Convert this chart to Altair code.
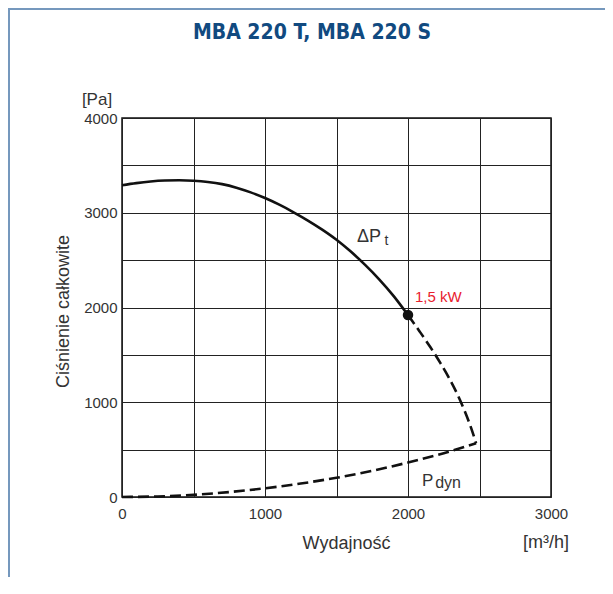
import altair as alt
import pandas as pd

# ---- data ----
flow_solid = [0, 100, 200, 300, 400, 500, 600, 700, 800, 900, 1000, 1100, 1200,
              1300, 1400, 1500, 1600, 1700, 1800, 1900, 2000]
pt_solid = [3290, 3313, 3330, 3340, 3343, 3338, 3325, 3302, 3265, 3215, 3155, 3085,
            3005, 2918, 2822, 2715, 2590, 2450, 2295, 2120, 1920]

flow_dash = [2000, 2080, 2157, 2228, 2291, 2348, 2397, 2440, 2476]
pt_dash = [1920, 1750, 1580, 1410, 1245, 1075, 905, 735, 567]

flow_dyn = [0, 250, 500, 750, 1000, 1250, 1500, 1750, 2000, 2250, 2476]
p_dyn = [0, 6, 23, 52, 92, 142, 203, 276, 364, 462, 567]

point_flow = [2000]
point_p = [1920]

x_ticks = [0, 500, 1000, 1500, 2000, 2500, 3000]
y_ticks = [0, 500, 1000, 1500, 2000, 2500, 3000, 3500, 4000]

FONT = "Liberation Sans, Arial, Helvetica, sans-serif"
TXT = "#333333"

df_solid = pd.DataFrame({"Q": flow_solid, "P": pt_solid})
df_dash = pd.concat([
    pd.DataFrame({"Q": flow_dash, "P": pt_dash, "curve": "dPt"}),
    pd.DataFrame({"Q": flow_dyn, "P": p_dyn, "curve": "Pdyn"}),
])
df_point = pd.DataFrame({"Q": point_flow, "P": point_p})

x_enc = alt.X(
    "Q:Q",
    scale=alt.Scale(domain=[0, 3000], nice=False, zero=False),
    axis=alt.Axis(
        values=x_ticks,
        labelExpr="datum.value % 1000 == 0 ? format(datum.value, 'd') : ''",
        grid=True, gridColor="#222222", gridWidth=1,
        ticks=False, domain=False,
        labelFontSize=15, labelColor=TXT, labelFont=FONT, labelPadding=9,
        labelFlush=False, labelOverlap=False,
        title="Wydajność", titleFont=FONT, titleFontSize=18,
        titleFontWeight="normal", titleColor=TXT,
        titleX=224, titleY=51, titleAlign="center", titleBaseline="alphabetic",
    ),
)
y_enc = alt.Y(
    "P:Q",
    scale=alt.Scale(domain=[0, 4000], nice=False),
    axis=alt.Axis(
        values=y_ticks,
        labelExpr="datum.value % 1000 == 0 ? format(datum.value, 'd') : ''",
        grid=True, gridColor="#222222", gridWidth=1,
        ticks=False, domain=False,
        labelFontSize=15, labelColor=TXT, labelFont=FONT, labelPadding=5,
        labelFlush=False, labelOverlap=False,
        title="Ciśnienie całkowite", titleFont=FONT, titleFontSize=18,
        titleFontWeight="normal", titleColor=TXT, titleAngle=270,
        titleX=-59, titleY=193, titleAlign="center", titleBaseline="middle",
    ),
)

solid = alt.Chart(df_solid).mark_line(
    color="#111111", strokeWidth=2.6, interpolate="monotone"
).encode(x=x_enc, y=y_enc)

dashed = alt.Chart(df_dash).mark_line(
    color="#111111", strokeWidth=2.6, interpolate="monotone", strokeDash=[11, 5]
).encode(x=x_enc, y=y_enc, detail="curve:N")

point = alt.Chart(df_point).mark_circle(
    color="#111111", size=110, opacity=1
).encode(x=x_enc, y=y_enc)

# in-plot annotations (data coordinates)
ann = pd.DataFrame({
    "Q": [1643, 1836, 2049, 2098, 2190],
    "P": [2691, 2662, 2058, 116, 100],
    "t": ["ΔP", "t", "1,5 kW", "P", "dyn"],
    "s": [18, 14, 15, 17, 16],
    "c": [TXT, TXT, "#e8202e", TXT, TXT],
})
ann_layers = []
for i in range(len(ann)):
    row = ann.iloc[[i]]
    ann_layers.append(
        alt.Chart(row).mark_text(
            align="left", baseline="alphabetic", font=FONT,
            fontSize=int(row["s"].iloc[0]), color=row["c"].iloc[0]
        ).encode(x=x_enc, y=y_enc, text="t:N")
    )

one = pd.DataFrame({"a": [0]})
title = alt.Chart(one).mark_text(
    text="MBA 220 T, MBA 220 S", align="center", baseline="middle",
    font="Liberation Sans Narrow, DejaVu Sans Condensed, Arial Narrow, sans-serif",
    fontSize=21, fontWeight="bold", color="#114a80"
).encode(x=alt.value(190), y=alt.value(-85))

pa_label = alt.Chart(one).mark_text(
    text="[Pa]", align="center", baseline="alphabetic", font=FONT,
    fontSize=17, color=TXT
).encode(x=alt.value(-25), y=alt.value(-13))

unit_label = alt.Chart(one).mark_text(
    text="[m³/h]", align="center", baseline="alphabetic", font=FONT,
    fontSize=18, color=TXT
).encode(x=alt.value(424), y=alt.value(379 + 51))

frame_left = alt.Chart(one).mark_rule(color="#7598bd", strokeWidth=2).encode(
    x=alt.value(-113), y=alt.value(-109), y2=alt.value(459)
)
frame_top = alt.Chart(one).mark_rule(color="#7598bd", strokeWidth=2).encode(
    x=alt.value(-114), x2=alt.value(483), y=alt.value(-109)
)

chart = alt.layer(
    solid, dashed, point, *ann_layers, title, pa_label, unit_label,
    frame_left, frame_top
).properties(
    width=429, height=379,
    autosize=alt.AutoSizeParams(type="none"),
    padding={"left": 114, "top": 110, "right": 54, "bottom": 80},
).configure_view(
    stroke="#111111", strokeWidth=1.5
)

chart.save("out.html", embed_options={"renderer": "svg", "actions": False})
